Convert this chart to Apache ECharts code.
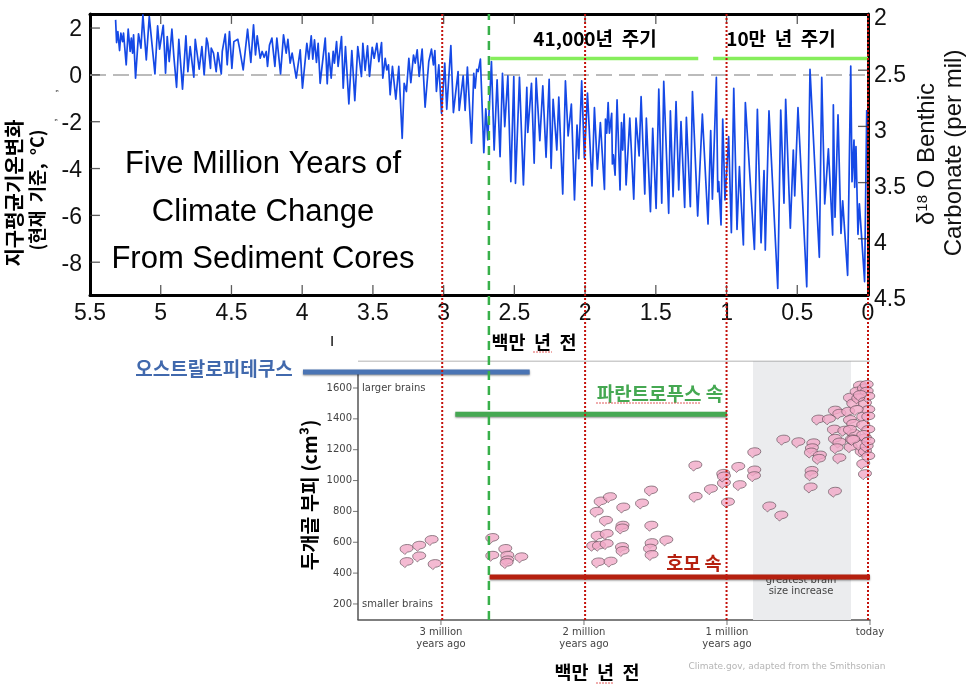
<!DOCTYPE html>
<html><head><meta charset="utf-8">
<style>html,body{margin:0;padding:0;background:#fff}#c{width:970px;height:687px}</style>
<script src="https://cdn.jsdelivr.net/npm/echarts@6/dist/echarts.min.js"></script>
</head><body><div id="c"></div>
<script>
const climateAges=[5.319,5.312,5.303,5.291,5.282,5.270,5.263,5.244,5.230,5.216,5.208,5.199,5.192,5.178,5.157,5.140,5.126,5.102,5.081,5.041,5.022,5.008,4.982,4.966,4.954,4.940,4.921,4.907,4.888,4.872,4.846,4.822,4.808,4.792,4.766,4.756,4.728,4.709,4.693,4.676,4.667,4.648,4.643,4.627,4.608,4.596,4.572,4.565,4.544,4.530,4.514,4.497,4.483,4.455,4.443,4.417,4.386,4.363,4.344,4.330,4.318,4.309,4.297,4.283,4.269,4.254,4.245,4.231,4.214,4.193,4.179,4.153,4.132,4.113,4.101,4.085,4.071,4.042,4.014,3.998,3.967,3.953,3.936,3.925,3.913,3.899,3.887,3.873,3.837,3.823,3.812,3.795,3.781,3.772,3.757,3.746,3.722,3.710,3.694,3.670,3.649,3.628,3.607,3.581,3.571,3.555,3.538,3.524,3.505,3.491,3.472,3.458,3.439,3.430,3.413,3.402,3.390,3.378,3.362,3.338,3.317,3.293,3.279,3.263,3.246,3.232,3.213,3.201,3.187,3.173,3.152,3.131,3.105,3.095,3.086,3.072,3.062,3.051,3.034,3.015,2.992,2.978,2.949,2.931,2.898,2.890,2.862,2.848,2.832,2.803,2.787,2.777,2.766,2.756,2.740,2.716,2.702,2.688,2.662,2.643,2.622,2.601,2.584,2.568,2.546,2.525,2.504,2.492,2.464,2.436,2.412,2.405,2.379,2.360,2.346,2.320,2.299,2.276,2.254,2.240,2.226,2.200,2.186,2.158,2.139,2.120,2.097,2.075,2.057,2.045,2.024,2.005,1.983,1.951,1.934,1.913,1.892,1.863,1.856,1.847,1.837,1.828,1.812,1.807,1.800,1.788,1.774,1.753,1.743,1.734,1.724,1.710,1.684,1.656,1.640,1.618,1.604,1.578,1.567,1.538,1.522,1.498,1.479,1.458,1.444,1.409,1.397,1.378,1.357,1.338,1.322,1.296,1.284,1.256,1.241,1.204,1.171,1.131,1.112,1.100,1.072,1.062,1.055,1.039,1.027,1.011,0.985,0.966,0.949,0.926,0.909,0.881,0.867,0.803,0.782,0.756,0.735,0.726,0.700,0.638,0.617,0.594,0.582,0.549,0.528,0.518,0.495,0.433,0.410,0.344,0.327,0.306,0.280,0.250,0.245,0.233,0.212,0.191,0.179,0.144,0.122,0.113,0.099,0.094,0.085,0.071,0.061,0.024,0.009];
const climateTemps=[2.35,1.38,1.85,1.04,1.78,1.42,1.78,0.43,1.95,1.0,1.57,0.93,1.71,-0.14,1.75,1.14,2.56,0.64,2.49,0.04,2.09,1.10,2.12,0.07,1.64,0.57,1.95,0.78,-0.53,1.52,-0.61,1.67,0.14,1.21,-0.10,1.52,0.24,1.21,0,1.57,1.35,0.28,1.14,0.93,0.14,0.95,0.04,1.0,1.74,0.43,1.85,0.28,1.42,1.52,1.14,0.21,1.95,0.53,2.14,0.85,1.67,1.61,0.71,1.0,0.75,1.0,0.36,1.28,1.57,0.36,1.57,0.04,1.71,0.93,1.52,0.50,0.93,-0.14,1.07,-0.57,1.35,0.67,1.67,0.67,1.50,0.53,1.35,-0.36,1.57,-0.38,0.93,-0.14,1.0,0.50,1.42,0.36,1.64,-0.57,1.21,-1.24,1.04,-1.10,1.21,-0.07,1.35,0.19,1.24,-0.07,1.18,0.71,1.35,0.57,1.38,-0.14,0.71,0.21,0.43,-0.85,0.36,-1.04,0.36,-2.71,-0.36,-0.71,0.71,-0.33,0.85,0.50,1.07,-0.07,1.10,-1.38,0.57,0.50,1.10,0.43,1.04,-0.71,0.43,-1.64,0.50,-1.47,1.25,-1.61,0.14,-1.52,-0.04,-1.52,0.33,-2.92,0.07,-0.57,0.24,0.14,0.67,-3.32,-1.45,-2.78,0.57,-3.21,-0.21,-3.49,0.07,-2.21,-0.04,-4.56,-0.07,-4.63,-0.10,-4.70,-0.53,-2.46,-0.36,-3.77,-0.14,-2.81,-0.47,-3.52,-0.19,-3.99,-1.04,-3.21,-0.95,-5.09,-0.26,-2.61,-1.25,-5.34,-2.14,-3.58,-0.26,-3.56,-0.78,-4.74,-1.40,-4.03,-2.04,-4.89,-1.89,-2.49,-1.18,-2.49,-1.64,-3.80,-3.42,-4.28,-1.07,-4.91,-2.04,-3.21,-1.67,-4.70,-1.85,-5.31,-1.85,-3.46,-0.93,-5.09,-1.85,-5.84,-2.28,-5.70,-0.61,-5.48,-0.28,-5.91,-1.54,-5.20,-1.14,-4.91,-1.99,-5.66,-1.81,-5.63,-0.71,-6.03,-1.68,-6.37,-2.38,-5.31,-0.11,-4.99,-4.56,-6.41,-1.89,-5.34,-2.64,-6.74,-0.57,-6.60,-3.92,-7.26,-1.18,-7.45,-1.47,-7.17,-4.09,-7.48,-1.54,-9.12,-1.50,-5.48,-1.04,-6.55,-3.21,-5.17,-1.40,-9.05,0.24,-7.79,-0.11,-5.51,-3.16,-6.84,-1.28,-6.08,-1.71,-6.77,-5.38,-8.56,0.38,-4.56,-2.78,-4.80,-3.06,-6.81,-5.51,-8.83,-1.5];
const brainAges=[3.240,3.152,3.065,3.240,3.152,3.044,2.641,2.550,2.641,2.536,2.536,2.541,2.438,1.883,1.911,1.818,1.846,1.904,1.841,1.935,1.895,1.841,1.900,1.814,1.725,1.730,1.734,1.734,1.730,1.594,1.531,1.529,1.527,1.538,1.527,1.424,1.219,1.221,1.112,1.021,1.026,1.021,0.993,0.921,0.911,0.809,0.809,0.811,0.704,0.620,0.606,0.501,0.396,0.406,0.413,0.350,0.357,0.408,0.410,0.415,0.245,0.214,0.361,0.287,0.252,0.179,0.245,0.214,0.152,0.245,0.214,0.233,0.135,0.140,0.117,0.140,0.117,0.112,0.126,0.070,0.093,0.042,0.023,0.023,0.035,0.047,0.047,0.035,0.058,0.035,0.047,0.035,0.070,0.023,0.012,0.012,0.012,0.012,0.093,0.082,0.012,0.047,0.070,0.117,0.140,0.012];
const brainVolumes=[553,574,611,468,505,455,624,553,509,509,479,462,499,861,794,889,736,639,650,574,574,585,466,471,822,704,686,565,540,848,932,704,591,555,514,609,891,1094,941,980,1040,1023,855,1085,967,1180,1062,1025,829,770,1262,1245,1238,1206,1178,1159,1137,1059,1031,952,924,1141,1392,1394,1327,1320,1450,1430,1443,1267,1243,1206,1213,1534,1497,1389,1364,1299,1264,1612,1573,1594,1616,1573,1497,1411,1357,1271,1185,1185,1105,1038,1228,1217,1454,1540,1411,1325,1454,1530,1152,1292,1551,1260,1325,1249];
const topAgeTicks=[5,4.5,4,3.5,3,2.5,2,1.5,1,0.5];
const tempTicks=[2,0,-2,-4,-6,-8];
const carbonateTickTemps=[0.2,-2.2,-4.6,-7];
const volumeTicks=[200,400,600,800,1000,1200,1400,1600];
const ageTicks=[3,2,1,0];
const ageTickLabels=['3 million\nyears ago','2 million\nyears ago','1 million\nyears ago','today'];
const redMarkers=[3.01,2,1,0];
const greenMarker=2.68;
const cycle41k=[2.67,1.2];
const cycle100k=[1.095,0];
const australopithecusRange=[3.965,2.38];
const paranthropusRange=[2.9,1];
const homoRange=[2.66,0];
const greatestIncrease=[0.818,0.133];

const KR='"Noto Sans CJK KR","Noto Sans",sans-serif';
const AR='"Liberation Sans",Arial,sans-serif';
const DV='"DejaVu Sans",Verdana,sans-serif';
const BRAIN='path://M0,5.5 C0,2 5,0 10,0 C15,0 18,2 18,5 C18,8 14,9.5 10,10 C9,10.5 8,12 6.5,13 C5.5,12 4.5,11 3.5,10.3 C1,9.5 0,7.5 0,5.5Z';
const range=(r,y)=>r.map(a=>[a,y]);
const barStyle=(c,w)=>({color:c,width:w,shadowColor:'rgba(0,0,0,0.45)',shadowBlur:2,shadowOffsetY:1,cap:'butt'});
function seg(data,ax,style,z){return {type:'line',xAxisIndex:ax,yAxisIndex:ax,data,symbol:'none',silent:true,animation:false,lineStyle:style,z:z};}
function tickMarks(data,ax,size,offset,color){return {type:'scatter',xAxisIndex:ax,yAxisIndex:ax,data,symbol:'rect',symbolSize:size,symbolOffset:offset,clip:false,silent:true,animation:false,z:6,itemStyle:{color}};}
function txt(t,x,y,o){return {type:'text',x,y,z:(o&&o.zz)||20,rotation:(o&&o.rot)||0,silent:true,style:Object.assign({text:t,textAlign:'center',textVerticalAlign:'middle',fill:'#000',font:'16px '+AR},o&&o.s)};}
const bold=(s)=>'bold '+s+'px '+KR;

const option={animation:false,backgroundColor:'#fff',
grid:[{left:90,right:102,top:14,bottom:392},{left:358,right:100,top:361,bottom:67},{left:90,right:102,top:14,bottom:67},{left:290,right:100,top:361,bottom:67}],
xAxis:[
{gridIndex:0,type:'value',inverse:true,min:0,max:5.5,interval:0.5,splitLine:{show:false},
 axisLine:{show:true,onZero:false,lineStyle:{color:'#000',width:3}},axisTick:{show:false},
 axisLabel:{fontFamily:AR,fontSize:23,color:'#111',margin:7,formatter:v=>String(v)}},
{gridIndex:1,type:'value',inverse:true,min:0,max:3.58,splitLine:{show:false},
 axisLine:{show:true,onZero:false,lineStyle:{color:'#555',width:1.5}},axisTick:{show:false},
 axisLabel:{fontFamily:DV,fontSize:10,lineHeight:12.5,color:'#444',margin:6,customValues:ageTicks,showMinLabel:true,showMaxLabel:true,
  formatter:v=>ageTickLabels[ageTicks.indexOf(v)]||''}},
{gridIndex:2,show:false,type:'value',inverse:true,min:0,max:5.5},
{gridIndex:0,type:'value',position:'top',inverse:true,min:0,max:5.5,interval:0.5,splitLine:{show:false},
 axisLine:{show:true,onZero:false,lineStyle:{color:'#000',width:3}},axisTick:{show:false},axisLabel:{show:false}},
{gridIndex:3,show:false,type:'value',inverse:true,min:0,max:4.056}
],
yAxis:[
{gridIndex:0,type:'value',min:-9.4,max:2.6,splitLine:{show:false},
 axisLine:{show:true,onZero:false,lineStyle:{color:'#000',width:3}},axisTick:{show:false},
 axisLabel:{fontFamily:AR,fontSize:23,color:'#111',margin:8,verticalAlign:'top',lineHeight:4,customValues:tempTicks,showMinLabel:true,showMaxLabel:true}},
{gridIndex:1,type:'value',min:96,max:1775,splitLine:{show:false},
 axisLine:{show:false},axisTick:{show:false},
 axisLabel:{fontFamily:DV,fontSize:10,color:'#444',margin:6,customValues:volumeTicks,showMinLabel:true,showMaxLabel:true,formatter:v=>String(v)}},
{gridIndex:2,show:false,type:'value',min:0,max:1},
{gridIndex:0,type:'value',position:'right',inverse:true,min:2,max:4.5,interval:0.5,splitLine:{show:false},
 axisLine:{show:true,onZero:false,lineStyle:{color:'#000',width:3}},axisTick:{show:false},
 axisLabel:{fontFamily:AR,fontSize:23,color:'#111',margin:6,verticalAlign:'top',lineHeight:10,showMinLabel:true,showMaxLabel:true,formatter:v=>String(v)}},
{gridIndex:3,show:false,type:'value',min:96,max:1775}
],
series:[
 seg([[5.5,0],[0,0]],0,{color:'#bbbbbb',width:2,type:[16,7]},3),
 {type:'line',xAxisIndex:0,yAxisIndex:0,symbol:'none',animation:false,silent:true,z:4,
  data:climateAges.map((a,i)=>[a,climateTemps[i]]),lineStyle:{color:'#1549e6',width:1.7,join:'round'}},
 seg(range(cycle41k,0.7),0,{color:'#86ee5c',width:3.5},5),
 seg(range(cycle100k,0.7),0,{color:'#86ee5c',width:3.5},5),
 tickMarks(topAgeTicks.map(a=>[a,-9.19]),0,[1.3,10],[0,0],'#333'),
 tickMarks(topAgeTicks.map(a=>[a,2.39]),0,[1.3,10],[0,0],'#333'),
 tickMarks(tempTicks.map(t=>[5.465,t]),0,[10,1.3],[0,0],'#333'),
 tickMarks(carbonateTickTemps.map(t=>[0.035,t]),0,[10,1.3],[0,0],'#333'),
 {type:'line',xAxisIndex:1,yAxisIndex:1,data:[],symbol:'none',silent:true,animation:false,z:1,
  markArea:{silent:true,itemStyle:{color:'#ebecee'},data:[[{xAxis:greatestIncrease[0],yAxis:96},{xAxis:greatestIncrease[1],yAxis:1775}]]}},
 seg([[3.58,1775],[0,1775]],1,{color:'#9a9a9a',width:1},3),
 seg([[3.58,96],[3.58,1704]],1,{color:'#555',width:1.5},3),
 tickMarks(volumeTicks.map(v=>[3.58,v]),1,[5,1],[-2.5,0],'#555'),
 tickMarks(ageTicks.map(a=>[a,96]),1,[1,5],[0,2.5],'#555'),
 {type:'scatter',xAxisIndex:1,yAxisIndex:1,data:brainAges.map((a,i)=>[a,brainVolumes[i]]),symbol:BRAIN,symbolSize:[13,10],clip:false,silent:true,animation:false,z:4,
  itemStyle:{color:'#f1a9c7',borderColor:'#5a4a52',borderWidth:0.8}},
 seg(range(australopithecusRange,1703),4,barStyle('#4a74b4',5),5),
 seg(range(paranthropusRange,1430),4,barStyle('#45a852',5),5),
 seg(range(homoRange,375),4,barStyle('#b5200f',5),5),
 ...redMarkers.map(a=>seg([[a,0],[a,1]],2,{color:'#c4120c',width:2,type:[2,2]},7)),
 seg([[greenMarker,0],[greenMarker,1]],2,{color:'#38b04a',width:2.5,type:[9,6]},7)
],
graphic:{elements:[
 txt('Five Million Years of',263,164,{s:{font:'31px '+AR}}),
 txt('Climate Change',263,212,{s:{font:'31px '+AR}}),
 txt('From Sediment Cores',263,259,{s:{font:'31px '+AR}}),
 txt('지구평균기온변화',14,193,{rot:Math.PI/2,s:{font:bold(20)}}),
 txt('(현재  기준,  °C)',37,190,{rot:Math.PI/2,s:{font:bold(18)}}),
 txt(',',54,91,{rot:Math.PI/2,s:{font:'11px '+AR}}),
 txt(',',53,120,{rot:Math.PI/2,s:{font:'11px '+AR}}),
 txt('I',332,342,{s:{font:'15px '+AR}}),
 txt('41,000년  주기',595,39,{s:{font:bold(19)}}),
 txt('10만  년  주기',781,39,{s:{font:bold(19)}}),
 txt('백만  년  전',534,342,{s:{font:bold(18.5)}}),
 txt('오스트랄로피테쿠스',214,369,{s:{font:bold(19),fill:'#4169ad'}}),
 txt('파란트로푸스 속',660,394,{s:{font:bold(19),fill:'#45a852'}}),
 txt('호모 속',694,563,{s:{font:bold(18.5),fill:'#b5200f'}}),
 txt('larger brains',362,388,{s:{textAlign:'left',font:'10px '+DV,fill:'#444'}}),
 txt('smaller brains',362,604,{s:{textAlign:'left',font:'10px '+DV,fill:'#444'}}),
 txt('greatest brain',801,580,{s:{font:'10px '+DV,fill:'#444'},zz:3}),
 txt('size increase',801,591,{s:{font:'10px '+DV,fill:'#444'},zz:3}),
 txt('두개골 부피 (cm³)',310,495,{rot:Math.PI/2,s:{font:bold(19.5)}}),
 txt('백만  년  전',597,672,{s:{font:bold(18.5)}}),
 txt('Climate.gov, adapted from the Smithsonian',787,667,{s:{font:'9px '+DV,fill:'#b5b5b5'}}),
 {type:'text',x:927,y:154,rotation:Math.PI/2,z:20,silent:true,style:{rich:{a:{font:'24px '+AR,fill:'#111'},b:{font:'15px '+AR,fill:'#111',verticalAlign:'top',padding:[0,0,8,0]}},text:'{a|δ}{b|18}{a| O Benthic}',textAlign:'center',textVerticalAlign:'middle'}},
 txt('Carbonate (per mil)',954,153,{rot:Math.PI/2,s:{font:'24px '+AR,fill:'#111'}}),
 {type:'line',silent:true,z:21,shape:{x1:596,y1:403,x2:700,y2:403},style:{stroke:'#e05a5a',lineWidth:1,lineDash:[2,1]}},
 {type:'line',silent:true,z:21,shape:{x1:533,y1:352,x2:552,y2:352},style:{stroke:'#e05a5a',lineWidth:1,lineDash:[2,1]}},
 {type:'line',silent:true,z:21,shape:{x1:596,y1:683,x2:614,y2:683},style:{stroke:'#e05a5a',lineWidth:1,lineDash:[2,1]}}
]}};
echarts.init(document.getElementById('c'),null,{renderer:'canvas'}).setOption(option);
</script></body></html>
